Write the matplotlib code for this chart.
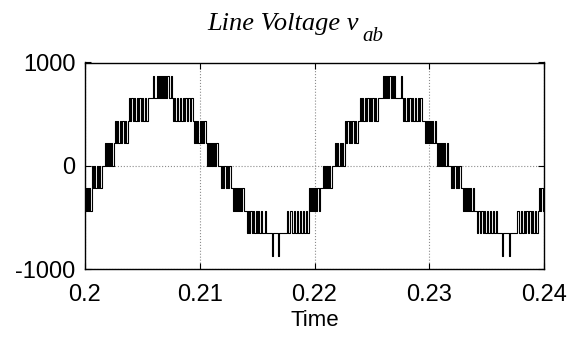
import matplotlib
matplotlib.use("Agg")
import matplotlib.pyplot as plt
import numpy as np

# ---- data ----
t_start = 0.2
t_end = 0.24
start_level = -436

# switching blocks: start time, end time (ms after 0.2 s), start level, other level, number of edges
blk_t0 = [0.0, 0.567, 1.700, 2.572, 3.793, 5.885, 6.234, 7.454, 7.629, 9.460,
          10.593, 11.814, 12.860, 14.081, 15.30, 15.65, 16.30, 16.80, 17.60, 17.90,
          18.20, 19.486, 20.706, 21.752, 22.624, 23.932, 25.95, 26.11, 27.51, 27.681,
          29.599, 30.645, 31.866, 32.912, 34.133, 35.55, 35.79, 36.34, 36.92, 37.68,
          37.97, 38.23, 39.538]
blk_t1 = [0.567, 1.439, 2.485, 3.705, 5.449, 5.98, 7.280, 7.55, 9.373, 10.506,
          11.552, 12.685, 13.819, 15.20, 15.40, 15.75, 16.42, 16.92, 17.70, 18.00,
          19.486, 20.445, 21.491, 22.624, 23.758, 25.501, 26.05, 27.04, 27.64, 29.337,
          30.558, 31.604, 32.738, 33.871, 35.41, 35.65, 35.89, 36.44, 37.02, 37.78,
          38.07, 39.451, 40.0]
blk_from = [-436, -218, 0, 218, 436, 654, 654, 654, 654, 436,
            218, 0, -218, -436, -654, -654, -654, -654, -654, -654,
            -654, -436, -218, 0, 218, 436, 654, 654, 654, 654,
            436, 218, 0, -218, -436, -654, -654, -654, -654, -654,
            -654, -654, -436]
blk_to = [-218, 0, 218, 436, 654, 872, 872, 872, 436, 218,
          0, -218, -436, -654, -436, -436, -872, -872, -436, -436,
          -436, -218, 0, 218, 436, 654, 872, 872, 872, 436,
          218, 0, -218, -436, -654, -436, -436, -872, -872, -436,
          -436, -436, -218]
blk_edges = [7, 9, 9, 11, 15, 2, 12, 2, 15, 11,
             11, 9, 11, 11, 2, 2, 2, 2, 2, 2,
             11, 11, 9, 9, 11, 15, 2, 10, 2, 15,
             11, 11, 9, 11, 11, 2, 2, 2, 2, 2,
             2, 11, 5]

x_ticks = [0.2, 0.21, 0.22, 0.23, 0.24]
x_tick_labels = ['0.2', '0.21', '0.22', '0.23', '0.24']
y_ticks = [-1000, 0, 1000]
y_tick_labels = ['-1000', '0', '1000']

# ---- build step waveform ----
ts = [t_start]
vs = [start_level]
for a, b, f, o, n in zip(blk_t0, blk_t1, blk_from, blk_to, blk_edges):
    edges = np.linspace(a, b, n)
    cur = f
    for e in edges:
        cur = o if cur == f else f
        ts.append(t_start + e / 1000.0)
        vs.append(cur)
ts.append(t_end)
vs.append(vs[-1])

fig = plt.figure(figsize=(5.72, 3.40), dpi=100)
ax = fig.add_axes([85 / 572, 1 - 269 / 340, 459 / 572, (269 - 62.5) / 340])
ax.plot(ts, vs, drawstyle='steps-post', color='black', lw=0.8)

ax.set_xlim(t_start, t_end)
ax.set_ylim(-1000, 1000)
ax.set_xticks(x_ticks)
ax.set_xticklabels(x_tick_labels)
ax.set_yticks(y_ticks)
ax.set_yticklabels(y_tick_labels)
ax.grid(True, linestyle=':', color='0.55', lw=0.8)
ax.tick_params(direction='in', length=4, top=True, right=True, width=0.8,
               labelsize=17, pad=7)
ax.tick_params(axis='x', pad=11)
for lab in ax.get_xticklabels() + ax.get_yticklabels():
    lab.set_family('Liberation Sans')
for s in ax.spines.values():
    s.set_linewidth(1.0)
ax.set_xlabel('Time', family='Liberation Sans', fontsize=16, labelpad=3)

# title: main text plus lowered subscript
main = fig.text(207 / 572, 1 - 30 / 340, 'Line Voltage v', fontsize=19,
                family='Liberation Serif', style='italic', ha='left', va='baseline')
fig.canvas.draw()
bb = main.get_window_extent(renderer=fig.canvas.get_renderer())
fig.text((bb.x1 + 4) / fig.bbox.width, 1 - 41 / 340, 'ab', fontsize=15,
         family='Liberation Serif', style='italic', ha='left', va='baseline')

fig.savefig('out.png', dpi=100)
